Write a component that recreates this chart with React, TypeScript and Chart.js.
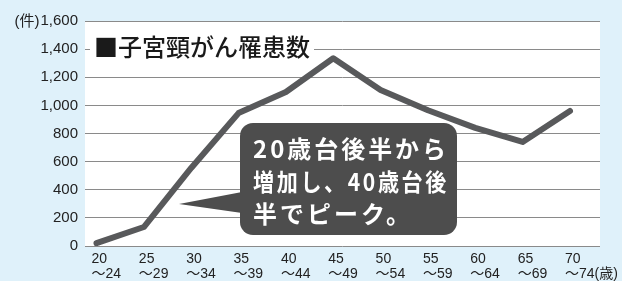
import { useEffect, useRef } from 'react';
import { Chart, registerables } from 'chart.js';

Chart.register(...registerables);

const ageStarts = ['20', '25', '30', '35', '40', '45', '50', '55', '60', '65', '70'];
const ageEnds = ['〜24', '〜29', '〜34', '〜39', '〜44', '〜49', '〜54', '〜59', '〜64', '〜69', '〜74(歳)'];
const cases = [20, 135, 555, 945, 1095, 1335, 1110, 965, 840, 740, 960];
const yTicks = [0, 200, 400, 600, 800, 1000, 1200, 1400, 1600];
const yUnit = '(件)';
const titleText = '■子宮頸がん罹患数';
const calloutLines = ['20歳台後半から', '増加し、40歳台後', '半でピーク。'];

const BG = '#dff1fa';
const LATIN = '"Liberation Sans", "Noto Sans CJK JP", sans-serif';
const CJK = '"Noto Sans CJK JP", "Noto Sans", sans-serif';

const decor = {
  id: 'decor',
  beforeDraw(chart: any) {
    const { ctx, chartArea: a, width, height } = chart;
    ctx.save();
    ctx.fillStyle = BG;
    ctx.fillRect(0, 0, width, height);
    ctx.fillStyle = '#ffffff';
    ctx.fillRect(a.left, a.top, a.right - a.left, a.bottom - a.top);
    ctx.restore();
  },
  beforeDatasetsDraw(chart: any) {
    const { ctx, chartArea: a, scales } = chart;
    const y = scales.y;
    ctx.save();
    // title
    ctx.font = `500 24px ${CJK}`;
    const tw = ctx.measureText(titleText).width;
    const tx = a.left + 9;
    const ty = y.getPixelForValue(1400) - 2;
    ctx.fillStyle = '#ffffff';
    ctx.fillRect(tx - 4, ty - 13, tw + 8, 26);
    ctx.fillStyle = '#1a1a1a';
    ctx.textBaseline = 'middle';
    ctx.textAlign = 'left';
    ctx.fillText(titleText, tx, ty);
    // unit
    ctx.font = `15px ${LATIN}`;
    const lw = ctx.measureText('1,600').width;
    ctx.textAlign = 'right';
    ctx.fillStyle = '#222';
    ctx.fillText(yUnit, a.left - 7 - lw - 1, y.getPixelForValue(1600) + 1);
    ctx.restore();
  },
  afterDatasetsDraw(chart: any) {
    const { ctx } = chart;
    ctx.save();
    const bx = 240, by = 123, bw = 217, bh = 112;
    ctx.fillStyle = '#4d4d4d';
    ctx.beginPath();
    ctx.roundRect(bx, by, bw, bh, 13);
    ctx.fill();
    ctx.beginPath();
    ctx.moveTo(179, 204);
    ctx.lineTo(bx + 2, 192);
    ctx.lineTo(bx + 2, 213);
    ctx.closePath();
    ctx.fill();
    ctx.fillStyle = '#ffffff';
    ctx.font = `bold 24px ${CJK}`;
    (ctx as any).letterSpacing = '3px';
    ctx.textBaseline = 'middle';
    ctx.textAlign = 'left';
    calloutLines.forEach((line, i) => {
      ctx.fillText(line, 253, 149 + i * 32.5, 196);
    });
    ctx.restore();
  },
};

export default function App() {
  const ref = useRef<HTMLCanvasElement>(null);
  useEffect(() => {
    document.body.style.margin = '0';
    const chart = new Chart(ref.current!, {
      type: 'line',
      data: {
        datasets: [
          {
            data: cases.map((v, i) => ({ x: i, y: v })),
            borderColor: '#58595b',
            borderWidth: 6,
            pointRadius: 0,
            borderJoinStyle: 'round',
            borderCapStyle: 'round',
            tension: 0,
          },
        ],
      },
      options: {
        animation: false,
        responsive: true,
        maintainAspectRatio: false,
        layout: { padding: { top: 21, right: 22, left: 0, bottom: 0 } },
        plugins: { legend: { display: false }, tooltip: { enabled: false } },
        scales: {
          x: {
            type: 'linear',
            min: -0.243,
            max: 10.634,
            grid: { display: false, drawTicks: false },
            border: { display: false },
            afterBuildTicks: (s: any) => {
              s.ticks = ageStarts.map((_, i) => ({ value: i }));
            },
            afterFit: (s: any) => {
              s.height = 35;
              s.paddingLeft = 0;
              s.paddingRight = 0;
            },
            ticks: {
              autoSkip: false,
              maxRotation: 0,
              align: 'start',
              labelOffset: -5,
              padding: 6,
              color: '#222',
              font: { family: LATIN, size: 14, lineHeight: 1.05 },
              callback: (_v: any, i: number) => [ageStarts[i], ageEnds[i]],
            },
          },
          y: {
            min: 0,
            max: 1600,
            afterBuildTicks: (s: any) => {
              s.ticks = yTicks.map((v) => ({ value: v }));
            },
            afterFit: (s: any) => {
              s.width = 85;
              s.paddingTop = 0;
              s.paddingBottom = 0;
            },
            grid: { color: '#8a8a8a', lineWidth: 1, drawTicks: false },
            border: { display: false },
            ticks: {
              padding: 7,
              color: '#222',
              font: { family: LATIN, size: 15 },
              callback: (v: any) => Number(v).toLocaleString('en-US'),
            },
          },
        },
      },
      plugins: [decor],
    } as any);
    return () => chart.destroy();
  }, []);
  return (
    <div style={{ position: 'absolute', left: 0, top: 0, width: 622, height: 281 }}>
      <canvas ref={ref} />
    </div>
  );
}
